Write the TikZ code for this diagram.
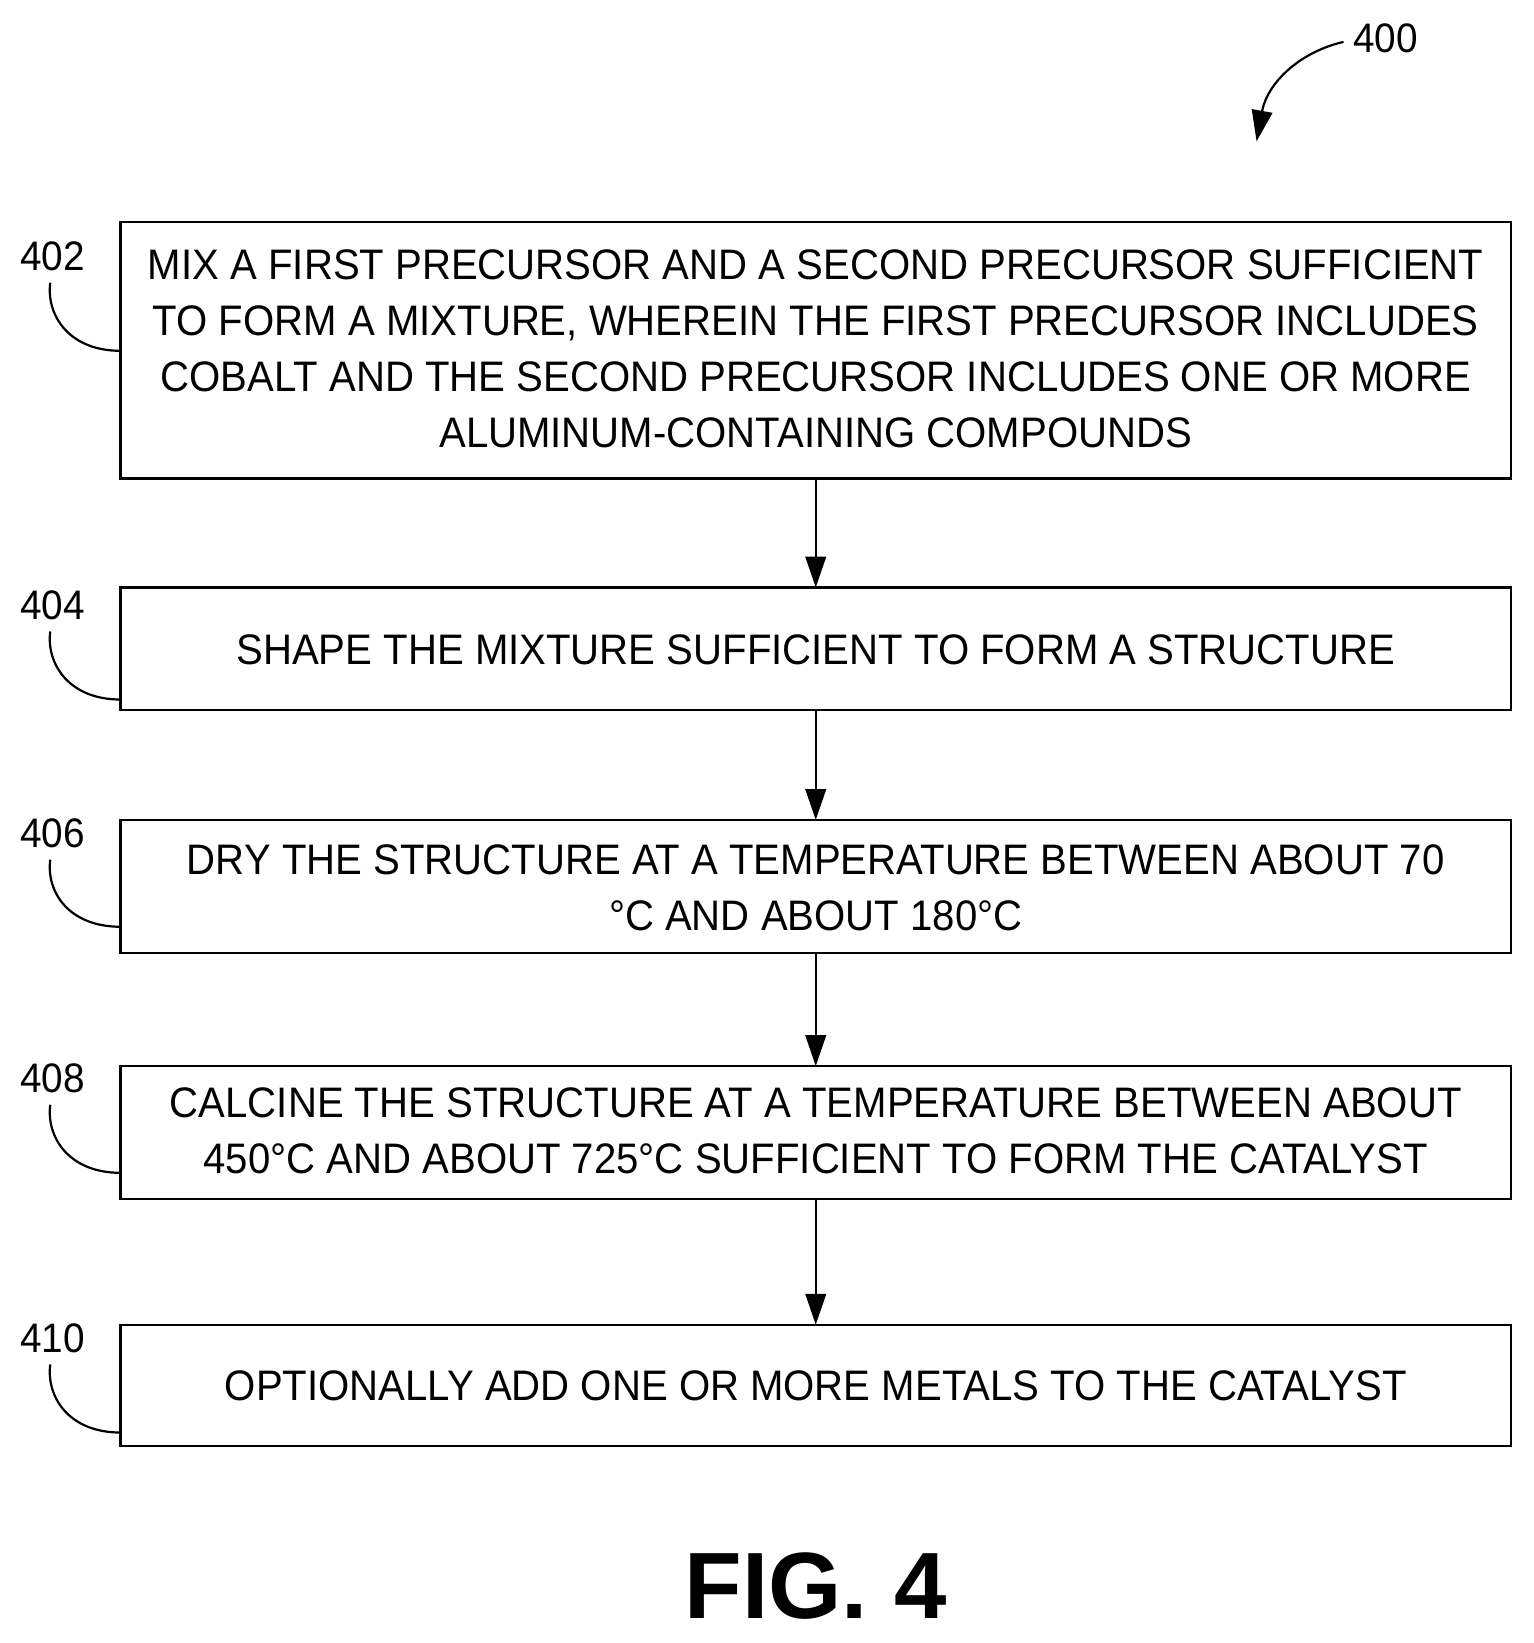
\documentclass[tikz,border=0pt]{standalone}
\usepackage{fontspec}
\setmainfont{Liberation Sans}[FakeStretch=0.94]
\newfontfamily\figfont{Liberation Sans}
\usetikzlibrary{arrows.meta}
\begin{document}
\begin{tikzpicture}[x=0.05cm,y=-0.05cm,
  box/.style={draw,line width=3pt},
  txt/.style={align=center,font=\fontsize{58}{76}\selectfont,inner sep=0},
  lbl/.style={font=\fontsize{56}{60}\selectfont,inner sep=0},
  arr/.style={line width=3pt,-{Triangle[length=42pt,width=28pt]}},
  lead/.style={line width=3pt}]
\useasboundingbox (0,0) rectangle (1464,1569);
\draw[box] (115,212) rectangle (1443,457);
\draw[box] (115,561) rectangle (1443,678);
\draw[box] (115,783) rectangle (1443,910);
\draw[box] (115,1018) rectangle (1443,1145);
\draw[box] (115,1265) rectangle (1443,1381);
\node[txt] (t402) at (779,333) {MIX A FIRST PRECURSOR AND A SECOND PRECURSOR SUFFICIENT\\TO FORM A MIXTURE, WHEREIN THE FIRST PRECURSOR INCLUDES\\COBALT AND THE SECOND PRECURSOR INCLUDES ONE OR MORE\\ALUMINUM-CONTAINING COMPOUNDS};
\node[txt] (t404) at (779,621) {SHAPE THE MIXTURE SUFFICIENT TO FORM A STRUCTURE};
\node[txt] (t406) at (779,848) {DRY THE STRUCTURE AT A TEMPERATURE BETWEEN ABOUT 70\\°C AND ABOUT 180°C};
\node[txt] (t408) at (779,1080) {CALCINE THE STRUCTURE AT A TEMPERATURE BETWEEN ABOUT\\450°C AND ABOUT 725°C SUFFICIENT TO FORM THE CATALYST};
\node[txt] (t410) at (779,1323) {OPTIONALLY ADD ONE OR MORE METALS TO THE CATALYST};
\coordinate (a1) at (779,457); \coordinate (a2) at (779,561);
\coordinate (a3) at (779,678); \coordinate (a4) at (779,783);
\coordinate (a5) at (779,910); \coordinate (a6) at (779,1018);
\coordinate (a7) at (779,1145); \coordinate (a8) at (779,1265);
\draw[arr] (a1) -- (a2); \draw[arr] (a3) -- (a4);
\draw[arr] (a5) -- (a6); \draw[arr] (a7) -- (a8);
\foreach \n/\ly/\ey in {402/245/335, 404/578/668, 406/796/885, 408/1030/1120, 410/1278/1368}{
  \node[lbl] (l\n) at (50,\ly) {\n};
  \coordinate (e\n) at (115,\ey);
  \draw[lead] (48,\ly+25) .. controls (44,\ly+55) and (65,\ey) .. (e\n);
}
\node[lbl] (l400) at (1323,37) {400};
\coordinate (s400) at (1283,40);
\coordinate (e400) at (1200,135);
\draw[arr] (s400) .. controls (1240,50) and (1210,80) .. (e400);
\node[font=\figfont\bfseries\fontsize{128}{128}\selectfont,inner sep=0] (fig) at (779,1515) {FIG. 4};
\end{tikzpicture}
\end{document}
